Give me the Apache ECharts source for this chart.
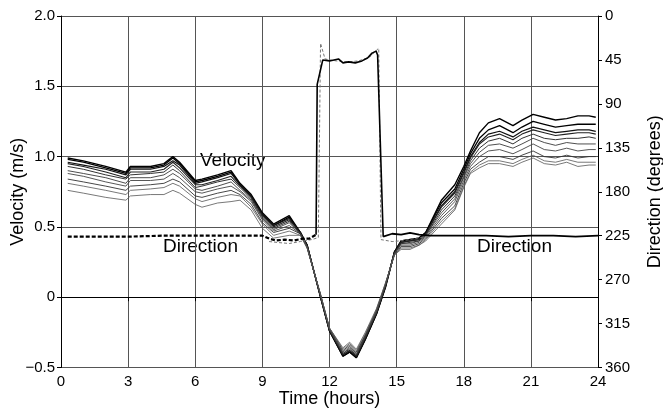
<!DOCTYPE html>
<html>
<head>
<meta charset="utf-8">
<script src="https://cdn.jsdelivr.net/npm/echarts@6/dist/echarts.min.js"></script>
<style>
html,body{margin:0;padding:0;background:#fff;}
#chart{width:663px;height:411px;}
</style>
</head>
<body>
<div id="chart"></div>
<script>
// Time (hours) shared by all velocity curves
var timeHours = [0.3,1,2,2.9,3.1,4,4.6,5,5.3,6,6.3,7,7.6,8,8.5,9,9.5,10.2,10.7,11,11.6,12,12.6,12.9,13.2,13.6,14.1,14.5,14.9,15.2,15.6,16,16.3,17,17.6,18,18.3,18.7,19.1,19.6,20.2,20.6,21.1,21.6,22.1,22.6,23.1,23.6,23.9];

// Velocity (m/s), one array per depth
var vel1 = [.99,.97,.93,.89,.93,.93,.95,1.00,.96,.83,.84,.87,.90,.81,.73,.60,.52,.58,.46,.37,.00,-.24,-.42,-.39,-.43,-.30,-.12,.07,.32,.40,.41,.42,.46,.69,.80,.93,1.04,1.17,1.24,1.27,1.22,1.26,1.30,1.28,1.26,1.27,1.29,1.29,1.28];
var vel2 = [.98,.96,.92,.88,.92,.92,.94,.99,.95,.82,.83,.86,.89,.80,.72,.59,.51,.57,.46,.37,.00,-.24,-.42,-.39,-.43,-.30,-.12,.07,.32,.40,.41,.42,.46,.67,.77,.91,1.02,1.13,1.19,1.22,1.17,1.21,1.25,1.23,1.21,1.22,1.23,1.23,1.23];
var vel3 = [.96,.94,.91,.87,.91,.91,.93,.97,.94,.81,.82,.85,.88,.80,.72,.59,.51,.56,.46,.37,.00,-.24,-.41,-.38,-.42,-.29,-.11,.08,.32,.39,.40,.41,.45,.65,.75,.89,1.00,1.10,1.16,1.18,1.14,1.18,1.21,1.19,1.17,1.18,1.19,1.19,1.18];
var vel4 = [.95,.93,.89,.85,.89,.89,.91,.96,.92,.80,.80,.83,.86,.79,.71,.58,.50,.55,.46,.36,.01,-.23,-.41,-.38,-.42,-.29,-.11,.08,.31,.39,.40,.41,.45,.64,.74,.88,.99,1.09,1.14,1.16,1.12,1.16,1.19,1.17,1.15,1.16,1.17,1.17,1.16];
var vel5 = [.93,.91,.87,.84,.87,.88,.89,.94,.90,.78,.79,.82,.84,.78,.70,.57,.49,.54,.45,.36,.01,-.23,-.40,-.37,-.41,-.28,-.11,.08,.31,.38,.39,.40,.44,.62,.72,.86,.97,1.06,1.11,1.13,1.09,1.13,1.16,1.13,1.12,1.13,1.13,1.14,1.13];
var vel6 = [.90,.88,.85,.81,.85,.85,.87,.91,.88,.77,.76,.79,.82,.76,.69,.56,.48,.53,.45,.36,.01,-.23,-.40,-.36,-.41,-.28,-.10,.09,.31,.38,.38,.40,.44,.60,.70,.85,.95,1.03,1.08,1.09,1.06,1.09,1.13,1.10,1.08,1.10,1.09,1.09,1.09];
var vel7 = [.88,.86,.82,.79,.83,.83,.84,.88,.85,.75,.74,.77,.79,.75,.68,.55,.47,.51,.45,.36,.01,-.23,-.39,-.35,-.40,-.27,-.10,.09,.31,.37,.37,.39,.43,.58,.68,.83,.93,1.00,1.04,1.05,1.02,1.05,1.09,1.05,1.04,1.06,1.04,1.05,1.05];
var vel8 = [.84,.82,.79,.76,.79,.80,.81,.84,.82,.72,.71,.74,.76,.73,.66,.53,.46,.49,.45,.35,.02,-.22,-.38,-.34,-.39,-.27,-.09,.09,.30,.36,.36,.38,.42,.56,.65,.81,.91,.96,1.00,1.00,.98,1.01,1.04,1.00,.99,1.01,.99,1.00,1.00];
var vel9 = [.81,.79,.76,.73,.76,.77,.78,.81,.79,.70,.68,.71,.73,.72,.64,.52,.44,.47,.44,.35,.02,-.22,-.37,-.33,-.38,-.26,-.09,.10,.30,.35,.35,.37,.41,.54,.63,.79,.89,.94,.97,.97,.95,.98,1.01,.97,.96,.98,.96,.96,.96];
var vel10 = [.76,.74,.71,.69,.72,.73,.73,.76,.74,.66,.64,.67,.68,.69,.62,.49,.42,.44,.44,.35,.02,-.22,-.36,-.32,-.37,-.25,-.08,.10,.30,.34,.34,.37,.40,.52,.62,.78,.88,.92,.95,.95,.93,.96,.99,.95,.94,.96,.93,.94,.94];

// Direction (degrees)
var dirLeftTime = [0.3,1.5,3,4.5,6,7.5,9,9.3,9.6,10,10.4,10.8,11.1,11.4];
var dirLeftDeg  = [226,226,226,225,225,225,225,228,230,229,230,228,228,224];
var dirTopTime  = [11.4,11.45,11.7,12.0,12.4,12.6,12.85,13.15,13.45,13.7,13.9,14.08,14.15,14.4];
var dirTopDeg   = [224,70,45,46,44,48,47,48,46,43,38,36,40,226];
var dir2Time    = [9.3,9.7,10.2,10.7,11.2,11.5,11.6,11.8,12.3,12.8,13.3,13.8,14.1,14.2,14.3,14.8,15.3,15.8,16.3];
var dir2Deg     = [231,232,233,231,229,227,28,44,46,47,46,42,35,33,229,231,230,228,226];
var dirRightTime = [14.4,14.8,15.2,15.6,16.0,16.5,17,18,19,20,21,22,23,24];
var dirRightDeg  = [226,223,224,222,224,225,225,225,225,226,225,225,226,225];

var xTicks = {min:0, max:24, interval:3};
var velTicks = {min:-0.5, max:2.0, interval:0.5};
var dirTicks = {min:0, max:360, interval:45};

function pairs(t, v){ return t.map(function(x,i){ return [x, v[i]]; }); }

var velArrays = [vel1,vel2,vel3,vel4,vel5,vel6,vel7,vel8,vel9,vel10];
var velStyles = [
  {c:'#000',w:1.4},{c:'#000',w:1.3},{c:'#111',w:1.2},{c:'#222',w:1.1},
  {c:'#333',w:1},{c:'#3a3a3a',w:0.9},{c:'#444',w:0.9},{c:'#333',w:0.9},
  {c:'#555',w:0.8},{c:'#555',w:0.8}
];
var FONT = 'Liberation Sans, Arial, Helvetica, sans-serif';

var series = velArrays.map(function(arr, i){
  return {
    type:'line', xAxisIndex:0, yAxisIndex:0, showSymbol:false, silent:true,
    data: pairs(timeHours, arr),
    lineStyle:{color:velStyles[i].c, width:velStyles[i].w}
  };
});
series.push({type:'line', yAxisIndex:1, showSymbol:false, data:pairs(dir2Time, dir2Deg),
  lineStyle:{color:'#777', width:1, type:[3,2]}});
series.push({type:'line', yAxisIndex:1, showSymbol:false, data:pairs(dirLeftTime, dirLeftDeg),
  lineStyle:{color:'#000', width:2.2, type:[4,2]}});
series.push({type:'line', yAxisIndex:1, showSymbol:false, data:pairs(dirTopTime, dirTopDeg),
  lineStyle:{color:'#000', width:1.6}});
series.push({type:'line', yAxisIndex:1, showSymbol:false, data:pairs(dirRightTime, dirRightDeg),
  lineStyle:{color:'#000', width:1.8}});

var chart = echarts.init(document.getElementById('chart'), null, {renderer:'canvas'});
chart.setOption({
  animation:false,
  backgroundColor:'#fff',
  textStyle:{fontFamily:FONT},
  grid:{left:61, right:65, top:16, bottom:43.5, containLabel:false, outerBoundsMode:'none'},
  xAxis:{
    type:'value', min:xTicks.min, max:xTicks.max, interval:xTicks.interval,
    name:'Time (hours)', nameLocation:'middle', nameGap:23, nameMoveOverlap:false,
    nameTextStyle:{fontSize:18, color:'#000', fontFamily:FONT},
    axisLine:{lineStyle:{color:'#000', width:1}},
    axisTick:{show:true, length:4, lineStyle:{color:'#000'}},
    axisLabel:{fontSize:15, color:'#000', margin:7, fontFamily:FONT},
    splitLine:{show:true, lineStyle:{color:'#555', width:1}}
  },
  yAxis:[{
    type:'value', min:velTicks.min, max:velTicks.max, interval:velTicks.interval,
    name:'Velocity (m/s)', nameLocation:'middle', nameGap:34, nameRotate:90, nameMoveOverlap:false,
    nameTextStyle:{fontSize:18, color:'#000', fontFamily:FONT},
    axisLine:{show:true, lineStyle:{color:'#000', width:1}},
    axisTick:{show:true, length:4, lineStyle:{color:'#000'}},
    axisLabel:{fontSize:15, color:'#000', margin:6, fontFamily:FONT,
      formatter:function(v){ if (Math.abs(v) < 1e-9) return '0'; var s=v.toFixed(1); return s.charAt(0)==='-' ? '\u2212'+s.slice(1) : s; }},
    splitLine:{show:true, lineStyle:{color:'#555', width:1}}
  },{
    type:'value', min:dirTicks.min, max:dirTicks.max, interval:dirTicks.interval, inverse:true,
    position:'right',
    name:'Direction (degrees)', nameLocation:'middle', nameGap:48, nameRotate:90, nameMoveOverlap:false,
    nameTextStyle:{fontSize:18, color:'#000', fontFamily:FONT},
    axisLine:{show:true, lineStyle:{color:'#000', width:1}},
    axisTick:{show:true, length:4, lineStyle:{color:'#000'}},
    axisLabel:{fontSize:15, color:'#000', margin:7, fontFamily:FONT},
    splitLine:{show:false}
  }],
  graphic:[
    {type:'text', left:200, top:151, style:{text:'Velocity', fontSize:19, fill:'#000', fontFamily:FONT, backgroundColor:'#fff'}},
    {type:'text', left:163, top:237, style:{text:'Direction', fontSize:19, fill:'#000', fontFamily:FONT}},
    {type:'text', left:477, top:237, style:{text:'Direction', fontSize:19, fill:'#000', fontFamily:FONT}}
  ],
  series:series
});
</script>
</body>
</html>
